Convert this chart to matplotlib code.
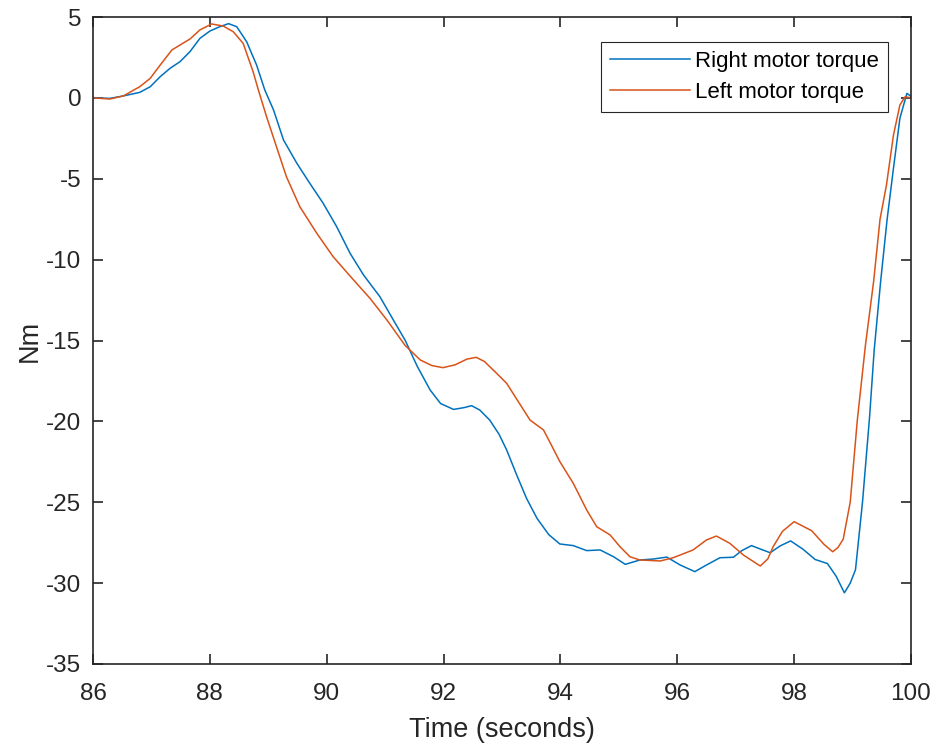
'''
Right and left motor torque over time
'''

import matplotlib
matplotlib.use('Agg')
import matplotlib.pyplot as plt

# time (s) and torque (Nm)
t_right = [86.0, 86.29, 86.52, 86.80, 86.98, 87.15, 87.32, 87.49, 87.66, 87.83, 88.0, 88.17,
           88.32, 88.46, 88.63, 88.80, 88.94, 89.09, 89.26, 89.49, 89.71, 89.94, 90.17,
           90.40, 90.63, 90.91, 91.14, 91.34, 91.55, 91.77, 91.95, 92.17, 92.35, 92.48,
           92.62, 92.79, 92.95, 93.08, 93.25, 93.42, 93.6, 93.8, 93.99, 94.22, 94.45,
           94.68, 94.91, 95.11, 95.36, 95.59, 95.82, 96.05, 96.30, 96.50, 96.73, 96.96,
           97.10, 97.27, 97.42, 97.59, 97.76, 97.94, 98.15, 98.36, 98.57, 98.72, 98.86,
           98.96, 99.05, 99.17, 99.29, 99.37, 99.48, 99.59, 99.70, 99.81, 99.93, 100.0]
right_torque = [0.0, -0.03, 0.12, 0.34, 0.69, 1.31, 1.83, 2.24, 2.86, 3.68, 4.13, 4.4,
                4.59, 4.4, 3.47, 2.03, 0.49, -0.75, -2.6, -4.05, -5.28, -6.52, -7.96,
                -9.61, -10.95, -12.29, -13.73, -14.97, -16.6, -18.06, -18.9, -19.26, -19.15, -19.03,
                -19.3, -19.92, -20.8, -21.77, -23.3, -24.76, -26.0, -27.0, -27.58, -27.68, -27.99,
                -27.95, -28.37, -28.84, -28.57, -28.51, -28.39, -28.88, -29.29, -28.88, -28.43, -28.4,
                -28.0, -27.68, -27.89, -28.12, -27.70, -27.39, -27.9, -28.54, -28.79, -29.58, -30.6,
                -30.0, -29.17, -24.99, -19.77, -15.59, -11.36, -7.55, -4.35, -1.26, 0.28, 0.1]

t_left = [86.0, 86.29, 86.52, 86.80, 86.98, 87.15, 87.35, 87.49, 87.66, 87.83, 88.03, 88.23,
          88.40, 88.57, 88.74, 88.83, 88.97, 89.14, 89.31, 89.54, 89.83, 90.11, 90.46,
          90.74, 91.03, 91.34, 91.60, 91.8, 91.99, 92.2, 92.4, 92.56, 92.7, 92.9,
          93.08, 93.3, 93.48, 93.71, 93.85, 93.99, 94.22, 94.45, 94.62, 94.85, 95.02,
          95.19, 95.36, 95.71, 95.93, 96.27, 96.50, 96.67, 96.90, 97.13, 97.42, 97.55,
          97.64, 97.80, 98.0, 98.30, 98.51, 98.66, 98.75, 98.84, 98.96, 99.08, 99.22,
          99.36, 99.47, 99.58, 99.70, 99.81, 99.90, 100.0]
left_torque = [0.0, -0.07, 0.12, 0.69, 1.21, 2.03, 2.96, 3.27, 3.64, 4.2, 4.57, 4.44,
               4.09, 3.37, 1.62, 0.49, -1.16, -3.02, -4.87, -6.73, -8.37, -9.82, -11.26,
               -12.39, -13.73, -15.3, -16.2, -16.55, -16.68, -16.5, -16.15, -16.04, -16.3, -17.0,
               -17.65, -18.9, -19.92, -20.53, -21.5, -22.49, -23.83, -25.48, -26.51, -27.02, -27.75,
               -28.37, -28.57, -28.63, -28.43, -27.95, -27.33, -27.09, -27.54, -28.26, -28.94, -28.5,
               -27.75, -26.8, -26.2, -26.76, -27.6, -28.06, -27.8, -27.28, -24.99, -19.97, -15.3,
               -11.36, -7.5, -5.39, -2.3, -0.44, 0.07, 0.0]

x_ticks = [86, 88, 90, 92, 94, 96, 98, 100]
y_ticks = [5, 0, -5, -10, -15, -20, -25, -30, -35]

plt.rcParams['font.family'] = ['Liberation Sans', 'DejaVu Sans']

fig = plt.figure(figsize=(9.36, 7.49), dpi=100)
ax = fig.add_axes([93 / 936, 1 - 664 / 749, (911 - 93) / 936, (664 - 17) / 749])

ax.plot(t_right, right_torque, color='#0072BD', lw=1.1, label='Right motor torque')
ax.plot(t_left, left_torque, color='#D95319', lw=1.1, label='Left motor torque')

ax.set_xlim(86, 100)
ax.set_ylim(-35, 5)
ax.set_xticks(x_ticks)
ax.set_yticks(y_ticks)
ax.set_yticklabels([str(v) for v in y_ticks])

# matlab style box with inward ticks on all sides
ax.tick_params(direction='in', length=7, width=1.2, top=True, right=True,
               labelsize=17.5, colors='#262626')
ax.tick_params(axis='x', pad=13.5)
ax.tick_params(axis='y', pad=8.5)
for s in ax.spines.values():
    s.set_linewidth(1.2)
    s.set_color('#262626')

ax.set_xlabel('Time (seconds)', fontsize=19.5, color='#262626', labelpad=9)
ax.set_ylabel('Nm', fontsize=19.5, color='#262626', labelpad=2)

leg = ax.legend(loc='upper right', bbox_to_anchor=(1 - 23 / 818, 1 - 25 / 647),
                fontsize=16, fancybox=False, framealpha=1, edgecolor='#262626',
                handlelength=3.6, borderpad=0.4, labelspacing=0.45, handletextpad=0.25,
                borderaxespad=0)
leg.get_frame().set_linewidth(0.8)

fig.savefig('out.png', dpi=100)
